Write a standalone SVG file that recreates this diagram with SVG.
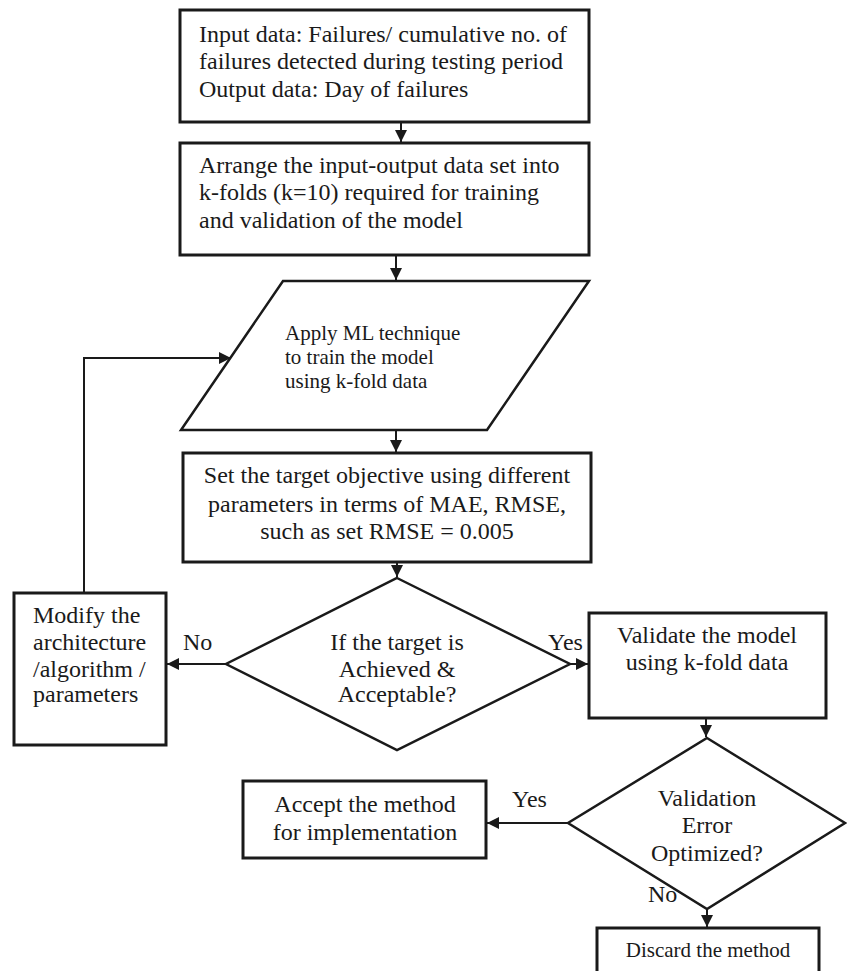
<svg xmlns="http://www.w3.org/2000/svg" width="847" height="971" viewBox="0 0 847 971">
<style>
.box{fill:#fff;stroke:#1a1a1a;stroke-width:3}
.t{font-family:"Liberation Serif","Times New Roman",serif;font-size:24px;fill:#1a1a1a}
.s{font-size:21px}
.c{text-anchor:middle}
.ln{fill:none;stroke:#1a1a1a;stroke-width:2}
</style>
<defs>
<marker id="ah" markerUnits="userSpaceOnUse" markerWidth="14" markerHeight="14" refX="12" refY="6" orient="auto">
<path d="M0,0 L12,6 L0,12 Z" fill="#1a1a1a"/>
</marker>
</defs>
<rect width="847" height="971" fill="#fff"/>
<g id="connectors">
<line class="ln" x1="401" y1="122" x2="401" y2="142" marker-end="url(#ah)"/>
<line class="ln" x1="396" y1="255" x2="396" y2="280" marker-end="url(#ah)"/>
<line class="ln" x1="396" y1="430" x2="396" y2="452" marker-end="url(#ah)"/>
<line class="ln" x1="397" y1="562" x2="397" y2="577" marker-end="url(#ah)"/>
<polyline class="ln" points="84,593 84,358 231,358" marker-end="url(#ah)"/>
<line class="ln" x1="226" y1="664" x2="167" y2="664" marker-end="url(#ah)"/>
<line class="ln" x1="570" y1="664" x2="588" y2="664" marker-end="url(#ah)"/>
<line class="ln" x1="706" y1="718" x2="706" y2="737" marker-end="url(#ah)"/>
<line class="ln" x1="568" y1="823" x2="487" y2="823" marker-end="url(#ah)"/>
<line class="ln" x1="707" y1="909" x2="707" y2="927" marker-end="url(#ah)"/>
<text class="t" x="183" y="650">No</text>
<text class="t" x="548" y="650">Yes</text>
<text class="t" x="512" y="807">Yes</text>
<text class="t" x="648" y="902">No</text>
</g>
<g id="input">
<rect class="box" x="180" y="10" width="409" height="112"/>
<text class="t" x="199" y="42">Input data: Failures/ cumulative no. of</text>
<text class="t" x="199" y="69">failures detected during testing period</text>
<text class="t" x="199" y="97">Output data: Day of failures</text>
</g>
<g id="arrange">
<rect class="box" x="180" y="143" width="409" height="112"/>
<text class="t" x="199" y="173">Arrange the input-output data set into</text>
<text class="t" x="199" y="200">k-folds (k=10) required for training</text>
<text class="t" x="199" y="228">and validation of the model</text>
</g>
<g id="apply">
<polygon class="box" style="stroke-width:2.5" points="283,281 589,281 487,430 181,430"/>
<text class="t s" x="285" y="340">Apply ML technique</text>
<text class="t s" x="285" y="364">to train the model</text>
<text class="t s" x="285" y="388">using k-fold data</text>
</g>
<g id="target">
<rect class="box" x="183" y="453" width="408" height="109"/>
<text class="t c" x="387" y="483">Set the target objective using different</text>
<text class="t c" x="387" y="512">parameters in terms of MAE, RMSE,</text>
<text class="t c" x="387" y="539">such as set RMSE = 0.005</text>
</g>
<g id="decision1">
<polygon class="box" style="stroke-width:2.5" points="397,578 570,664 397,750 226,664"/>
<text class="t c" x="397" y="650">If the target is</text>
<text class="t c" x="397" y="677">Achieved &amp;</text>
<text class="t c" x="397" y="702">Acceptable?</text>
</g>
<g id="modify">
<rect class="box" x="14" y="593" width="152" height="152"/>
<text class="t" x="33" y="623">Modify the</text>
<text class="t" x="33" y="650">architecture</text>
<text class="t" x="33" y="677">/algorithm /</text>
<text class="t" x="33" y="702">parameters</text>
</g>
<g id="validate">
<rect class="box" x="589" y="613" width="237" height="105"/>
<text class="t c" x="707" y="643">Validate the model</text>
<text class="t c" x="707" y="670">using k-fold data</text>
</g>
<g id="decision2">
<polygon class="box" style="stroke-width:2.5" points="707,738 845,823 707,909 568,823"/>
<text class="t c" x="707" y="806">Validation</text>
<text class="t c" x="707" y="833">Error</text>
<text class="t c" x="707" y="861">Optimized?</text>
</g>
<g id="accept">
<rect class="box" x="243" y="781" width="243" height="77"/>
<text class="t c" x="365" y="812">Accept the method</text>
<text class="t c" x="365" y="840">for implementation</text>
</g>
<g id="discard">
<rect class="box" x="597" y="928" width="222" height="52"/>
<text class="t s c" x="708" y="957">Discard the method</text>
</g>
</svg>
